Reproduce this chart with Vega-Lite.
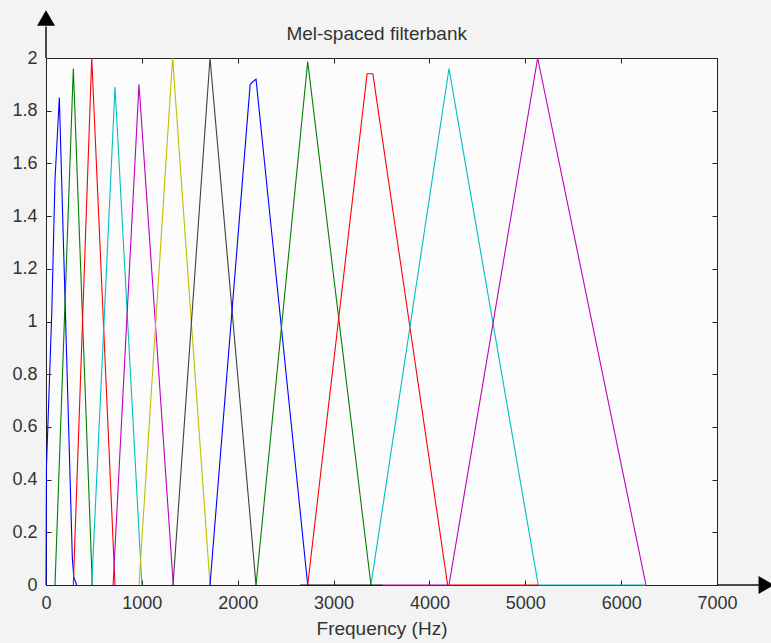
{
  "$schema": "https://vega.github.io/schema/vega-lite/v6.json",
  "width": 671,
  "height": 527,
  "autosize": "none",
  "padding": {"left": 46, "top": 58, "right": 54, "bottom": 58},
  "background": "#f3f3f3",
  "config": {
    "font": "Liberation Sans",
    "view": {"stroke": "#222222", "strokeWidth": 1, "fill": "#fcfcfc"},
    "axis": {
      "domainColor": "#222222",
      "tickColor": "#222222",
      "labelColor": "#333333",
      "titleColor": "#333333",
      "labelFontSize": 18,
      "titleFontSize": 19,
      "titleFontWeight": "normal",
      "grid": false
    }
  },
  "datasets": {
    "filters": [
      {"s": "f01", "x": 0, "y": 0}, {"s": "f01", "x": 5, "y": 0.45}, {"s": "f01", "x": 60, "y": 1.03}, {"s": "f01", "x": 94, "y": 1.54}, {"s": "f01", "x": 139, "y": 1.85}, {"s": "f01", "x": 275, "y": 0.1}, {"s": "f01", "x": 290, "y": 0.03}, {"s": "f01", "x": 320, "y": 0},
      {"s": "f02", "x": 94, "y": 0}, {"s": "f02", "x": 285, "y": 1.96}, {"s": "f02", "x": 483, "y": 0},
      {"s": "f03", "x": 285, "y": 0}, {"s": "f03", "x": 477, "y": 2.0}, {"s": "f03", "x": 720, "y": 0},
      {"s": "f04", "x": 477, "y": 0}, {"s": "f04", "x": 720, "y": 1.89}, {"s": "f04", "x": 1000, "y": 0},
      {"s": "f05", "x": 700, "y": 0}, {"s": "f05", "x": 970, "y": 1.9}, {"s": "f05", "x": 1328, "y": 0},
      {"s": "f06", "x": 970, "y": 0}, {"s": "f06", "x": 1321, "y": 2.0}, {"s": "f06", "x": 1711, "y": 0},
      {"s": "f07", "x": 1325, "y": 0}, {"s": "f07", "x": 1711, "y": 2.0}, {"s": "f07", "x": 2191, "y": 0},
      {"s": "f08", "x": 1711, "y": 0}, {"s": "f08", "x": 2130, "y": 1.9}, {"s": "f08", "x": 2191, "y": 1.92}, {"s": "f08", "x": 2730, "y": 0},
      {"s": "f09", "x": 2191, "y": 0}, {"s": "f09", "x": 2730, "y": 1.986}, {"s": "f09", "x": 3390, "y": 0},
      {"s": "f10", "x": 2730, "y": 0}, {"s": "f10", "x": 3350, "y": 1.94}, {"s": "f10", "x": 3410, "y": 1.94}, {"s": "f10", "x": 4190, "y": 0},
      {"s": "f11", "x": 3390, "y": 0}, {"s": "f11", "x": 4204, "y": 1.96}, {"s": "f11", "x": 5135, "y": 0},
      {"s": "f12", "x": 4204, "y": 0}, {"s": "f12", "x": 5129, "y": 2.0}, {"s": "f12", "x": 6259, "y": 0},
      {"s": "z07", "x": 2650, "y": 0}, {"s": "z07", "x": 3515, "y": 0},
      {"s": "z12", "x": 3515, "y": 0}, {"s": "z12", "x": 4190, "y": 0},
      {"s": "z10", "x": 4190, "y": 0}, {"s": "z10", "x": 5140, "y": 0},
      {"s": "z11", "x": 5140, "y": 0}, {"s": "z11", "x": 6259, "y": 0}
    ],
    "arrowlines": [
      {"x": 0, "x2": 0, "y": 2, "y2": 2.12},
      {"x": 7000, "x2": 7440, "y": 0, "y2": 0}
    ],
    "arrowheads": [
      {"x": 0, "y": 2.152, "shape": "triangle-up"},
      {"x": 7515, "y": 0, "shape": "triangle-right"}
    ],
    "titles": [
      {"x": 3450, "y": 2.091, "text": "Mel-spaced filterbank"}
    ]
  },
  "resolve": {"axis": {"x": "independent", "y": "independent"}},
  "layer": [
    {
      "data": {"name": "filters"},
      "mark": {"type": "line", "strokeWidth": 1.1, "clip": false},
      "encoding": {
        "x": {"field": "x", "type": "quantitative", "scale": {"domain": [0, 7000], "nice": false, "zero": false},
              "axis": {"orient": "bottom", "values": [0, 1000, 2000, 3000, 4000, 5000, 6000, 7000], "format": "d", "tickSize": -5, "labelPadding": 14, "title": "Frequency (Hz)", "titlePadding": 7, "labelFlush": false}},
        "y": {"field": "y", "type": "quantitative", "scale": {"domain": [0, 2], "nice": false, "zero": false},
              "axis": {"orient": "left", "values": [0, 0.2, 0.4, 0.6, 0.8, 1, 1.2, 1.4, 1.6, 1.8, 2], "format": "~g", "tickSize": -5, "labelPadding": 14, "title": null, "labelFlush": false}},
        "color": {"field": "s", "type": "nominal", "legend": null,
                  "scale": {"domain": ["f01", "f02", "f03", "f04", "f05", "f06", "f07", "f08", "f09", "f10", "f11", "f12", "z07", "z12", "z10", "z11"],
                            "range": ["#0000ff", "#008000", "#ff0000", "#00bfbf", "#bf00bf", "#bfbf00", "#404040", "#0000ff", "#008000", "#ff0000", "#00bfbf", "#bf00bf", "#111111", "#bf00bf", "#ff0000", "#00bfbf"]}},
        "detail": {"field": "s"}
      }
    },
    {
      "data": {"name": "arrowlines"},
      "mark": {"type": "rule", "color": "#111111", "strokeWidth": 1.5, "clip": false},
      "encoding": {
        "x": {"field": "x", "type": "quantitative", "axis": {"orient": "top", "values": [0, 1000, 2000, 3000, 4000, 5000, 6000, 7000], "tickSize": -5, "labels": false, "domain": false, "title": null}},
        "x2": {"field": "x2"},
        "y": {"field": "y", "type": "quantitative", "axis": {"orient": "right", "values": [0, 0.2, 0.4, 0.6, 0.8, 1, 1.2, 1.4, 1.6, 1.8, 2], "tickSize": -5, "labels": false, "domain": false, "title": null}},
        "y2": {"field": "y2"}
      }
    },
    {
      "data": {"name": "arrowheads"},
      "mark": {"type": "point", "filled": true, "size": 324, "color": "#000000", "opacity": 1, "clip": false},
      "encoding": {
        "x": {"field": "x", "type": "quantitative", "axis": null},
        "y": {"field": "y", "type": "quantitative", "axis": null},
        "shape": {"field": "shape", "type": "nominal", "scale": null, "legend": null}
      }
    },
    {
      "data": {"name": "titles"},
      "mark": {"type": "text", "fontSize": 19, "color": "#333333", "align": "center", "baseline": "middle", "clip": false},
      "encoding": {
        "x": {"field": "x", "type": "quantitative", "axis": null},
        "y": {"field": "y", "type": "quantitative", "axis": null},
        "text": {"field": "text"}
      }
    }
  ]
}
